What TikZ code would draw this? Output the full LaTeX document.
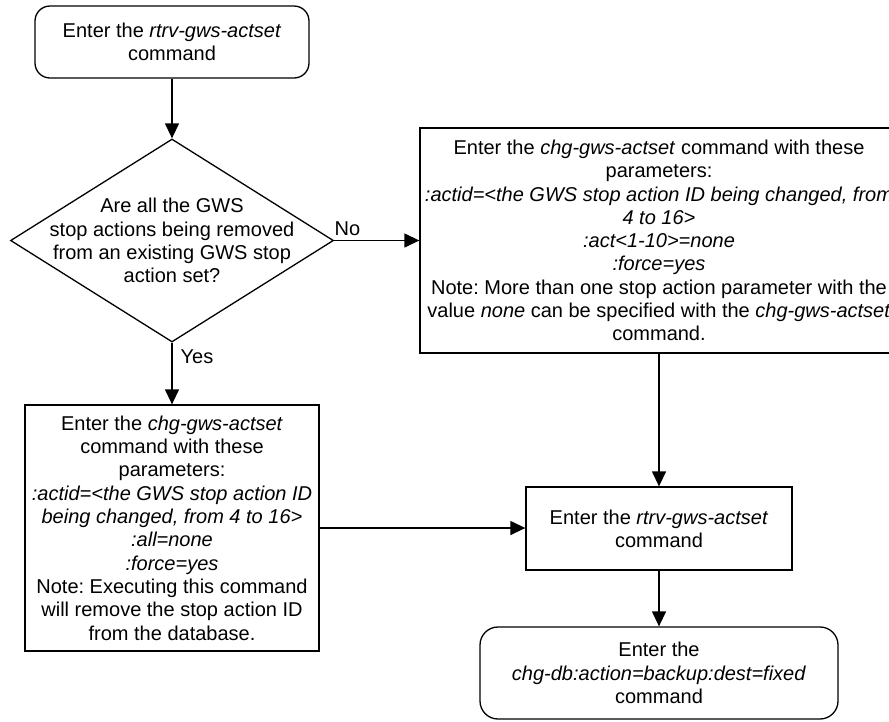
\documentclass[tikz,border=0pt]{standalone}
\usepackage{fontspec}
\setmainfont{Liberation Sans}
\usetikzlibrary{shapes.geometric,arrows.meta}
\frenchspacing
\begin{document}
\begin{tikzpicture}[x=1pt,y=-1pt,
  every node/.style={font=\fontsize{20}{23.3}\selectfont, inner sep=0pt},
  frame/.style={draw, line width=1.3pt, rectangle, align=center},
  terminal/.style={frame, rounded corners=15pt},
  decision/.style={draw, line width=1.3pt, diamond, minimum width=323pt, minimum height=203pt},
  flow/.style={draw, line width=1.3pt, -{Triangle[length=15pt,width=14pt]}},
  lbl/.style={align=center}]
\clip (0,0) rectangle (889,721);

% start
\node[terminal, minimum width=274pt, minimum height=72pt] (start) at (172,42)
  {Enter the \textit{rtrv-gws-actset}\\command};

% decision
\node[decision] (dec) at (172,240.5) {};
\node[lbl] (dectext) at (dec.center)
  {Are all the GWS\\stop actions being removed\\from an existing GWS stop\\action set?};

% "No" branch
\node[frame, minimum width=478pt, minimum height=225pt] (chgset) at (659,240.5)
  {Enter the \textit{chg-gws-actset} command with these\\parameters:\\
   \textit{:actid=<the GWS stop action ID being changed, from}\\
   \textit{4 to 16>}\\\textit{:act<1-10>=none}\\\textit{:force=yes}\\
   Note: More than one stop action parameter with the\\
   value \textit{none} can be specified with the \textit{chg-gws-actset}\\
   command.};

% "Yes" branch
\node[frame, minimum width=294pt, minimum height=246pt] (chgall) at (172,528)
  {Enter the \textit{chg-gws-actset}\\command with these\\parameters:\\
   \textit{:actid=<the GWS stop action ID}\\
   \textit{being changed, from 4 to 16>}\\
   \textit{:all=none}\\\textit{:force=yes}\\
   Note: Executing this command\\will remove the stop action ID\\from the database.};

% verify
\node[frame, minimum width=266pt, minimum height=83pt] (rtrv) at (659,528.5)
  {Enter the \textit{rtrv-gws-actset}\\command};

% backup
\node[terminal, rounded corners=18pt, minimum width=358pt, minimum height=92pt] (backup) at (659,673)
  {Enter the\\\textit{chg-db:action=backup:dest=fixed}\\command};

% connectors
\draw[flow] (start.south) -- (dec.north);
\draw[flow] (dec.east) -- (chgset.west);
\draw[flow] (dec.south) -- (chgall.north);
\draw[flow] (chgset.south) -- (chgset.south |- rtrv.north);
\draw[flow] (chgall.east) -- (chgall.east -| rtrv.west);
\draw[flow] (rtrv.south) -- (backup.north);

% branch labels
\node[lbl] (nolbl) at (347.5,229) {No};
\node[lbl] (yeslbl) at (197,357) {Yes};
\end{tikzpicture}
\end{document}
